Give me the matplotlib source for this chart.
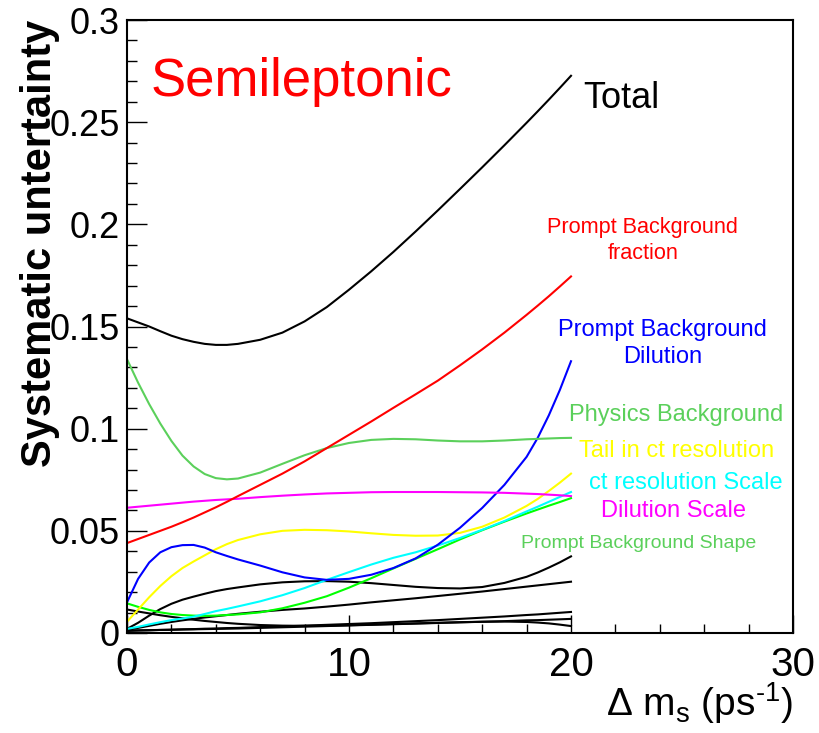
import matplotlib
matplotlib.use("Agg")
import matplotlib.pyplot as plt
from matplotlib.ticker import MultipleLocator

plt.rcParams['font.family'] = ['Liberation Sans', 'DejaVu Sans']
plt.rcParams['mathtext.fontset'] = 'custom'
plt.rcParams['mathtext.rm'] = 'Liberation Sans'
plt.rcParams['mathtext.it'] = 'Liberation Sans:italic'
plt.rcParams['mathtext.bf'] = 'Liberation Sans:bold'

# Delta m_s grid (ps^-1)
dms = [0, 0.5, 1, 1.5, 2, 2.5, 3, 3.5, 4, 4.5, 5, 6, 7, 8, 9, 10,
       11, 12, 13, 14, 15, 16, 17, 18, 18.5, 19, 19.5, 20]

total = [0.154, 0.152, 0.150, 0.1477, 0.1455, 0.1438, 0.1425, 0.1415, 0.141, 0.141, 0.1415,
         0.1435, 0.147, 0.1525, 0.1595, 0.168, 0.177, 0.1865, 0.1965, 0.2068, 0.2173,
         0.2279, 0.2387, 0.2497, 0.2553, 0.261, 0.2668, 0.2727]
prompt_bkg_fraction = [0.044, 0.046, 0.048, 0.050, 0.052, 0.0542, 0.0565, 0.059, 0.0615, 0.0642, 0.067,
                       0.0725, 0.078, 0.084, 0.0905, 0.097, 0.1035, 0.1102, 0.1168, 0.1235, 0.131,
                       0.1388, 0.147, 0.1557, 0.1602, 0.1648, 0.1696, 0.1745]
physics_bkg = [0.134, 0.1225, 0.112, 0.1025, 0.094, 0.0868, 0.0815, 0.0778, 0.0758, 0.0752, 0.0756,
               0.0785, 0.0828, 0.087, 0.0905, 0.093, 0.0945, 0.095, 0.0948, 0.0942, 0.0938,
               0.0938, 0.0942, 0.0948, 0.095, 0.0952, 0.0954, 0.0955]
dilution_scale = [0.0613, 0.0618, 0.0623, 0.0628, 0.0633, 0.0638, 0.0643, 0.0647, 0.0651, 0.0654, 0.0657,
                  0.0665, 0.0672, 0.0678, 0.0683, 0.0686, 0.0689, 0.069, 0.069, 0.069, 0.0689,
                  0.0688, 0.0686, 0.0682, 0.068, 0.0677, 0.0674, 0.067]
prompt_bkg_dilution = [0.015, 0.0265, 0.0345, 0.0395, 0.042, 0.043, 0.0431, 0.0418, 0.0395, 0.0377, 0.036,
                       0.033, 0.0297, 0.0272, 0.026, 0.0265, 0.0285, 0.0318, 0.0365, 0.0432, 0.0515,
                       0.0612, 0.0725, 0.0862, 0.0955, 0.1065, 0.119, 0.133]
tail_ct_res = [0.0055, 0.0115, 0.0175, 0.023, 0.0278, 0.0318, 0.035, 0.038, 0.041, 0.0435, 0.0455,
               0.0483, 0.050, 0.0505, 0.0503, 0.0497, 0.0488, 0.048, 0.0476, 0.0477, 0.049,
               0.052, 0.0565, 0.0622, 0.0656, 0.0695, 0.0736, 0.078]
ct_res_scale = [0.002, 0.003, 0.0042, 0.0053, 0.0063, 0.0071, 0.008, 0.0093, 0.0107, 0.0118, 0.013,
                0.0155, 0.0185, 0.022, 0.026, 0.0298, 0.0335, 0.0368, 0.0395, 0.0428, 0.0465,
                0.0505, 0.0548, 0.0595, 0.0618, 0.0642, 0.0666, 0.069]
prompt_bkg_shape = [0.0145, 0.0128, 0.0113, 0.0101, 0.0093, 0.0088, 0.0085, 0.0084, 0.0085, 0.0088, 0.0091,
                    0.0101, 0.0121, 0.0148, 0.018, 0.0222, 0.0268, 0.0316, 0.0363, 0.041, 0.0458,
                    0.0503, 0.0545, 0.0585, 0.0604, 0.0623, 0.0641, 0.066]
other_a = [0.002, 0.005, 0.0085, 0.0117, 0.0143, 0.0163, 0.0178, 0.0192, 0.0205, 0.0215, 0.0223,
           0.0238, 0.0248, 0.0253, 0.0254, 0.0251, 0.0244, 0.0235, 0.0226, 0.022, 0.0218,
           0.0225, 0.0245, 0.0275, 0.0296, 0.032, 0.0346, 0.0375]
other_b = [0.0015, 0.0025, 0.0035, 0.0045, 0.0054, 0.0062, 0.0069, 0.0076, 0.0082, 0.0088, 0.0094,
           0.0104, 0.0113, 0.012, 0.0129, 0.0139, 0.015, 0.016, 0.017, 0.0181, 0.0192,
           0.0203, 0.0215, 0.0227, 0.0233, 0.0239, 0.0245, 0.0251]
other_c = [0.0115, 0.0105, 0.0096, 0.0087, 0.0079, 0.0072, 0.0065, 0.0059, 0.0054, 0.0049, 0.0045,
           0.0039, 0.0036, 0.0035, 0.0036, 0.0038, 0.0041, 0.0044, 0.0047, 0.005, 0.0053,
           0.0055, 0.0056, 0.0054, 0.0051, 0.0047, 0.0041, 0.0034]
other_d = [0.001, 0.0012, 0.0013, 0.0015, 0.0016, 0.0018, 0.0019, 0.0021, 0.0022, 0.0024, 0.0025,
           0.0029, 0.0032, 0.0036, 0.004, 0.0044, 0.0048, 0.0053, 0.0058, 0.0063, 0.0069,
           0.0075, 0.0081, 0.0088, 0.0091, 0.0095, 0.0099, 0.0103]
other_e = [0.0012, 0.0013, 0.0014, 0.0015, 0.0016, 0.0017, 0.0018, 0.0019, 0.002, 0.0021, 0.0022,
           0.0025, 0.0028, 0.0031, 0.0034, 0.0037, 0.004, 0.0043, 0.0046, 0.0049, 0.0052,
           0.0055, 0.0058, 0.0062, 0.0063, 0.0065, 0.0067, 0.0069]

light_green = '#5bd05b'

fig = plt.figure(figsize=(8.2, 7.33), dpi=100)
ax = fig.add_axes([127 / 820, 1 - 633 / 733, (793 - 127) / 820, (633 - 20) / 733])

lw = 1.5
for series in (other_a, other_b, other_c, other_d, other_e):
    ax.plot(dms, series, color='black', lw=lw, solid_joinstyle='round')
ax.plot(dms, prompt_bkg_shape, color='#00ff00', lw=lw, solid_joinstyle='round')
ax.plot(dms, ct_res_scale, color='#00ffff', lw=lw, solid_joinstyle='round')
ax.plot(dms, tail_ct_res, color='#ffff00', lw=lw, solid_joinstyle='round')
ax.plot(dms, prompt_bkg_dilution, color='#0000ff', lw=lw, solid_joinstyle='round')
ax.plot(dms, dilution_scale, color='#ff00ff', lw=lw, solid_joinstyle='round')
ax.plot(dms, physics_bkg, color=light_green, lw=lw, solid_joinstyle='round')
ax.plot(dms, prompt_bkg_fraction, color='#ff0000', lw=lw, solid_joinstyle='round')
ax.plot(dms, total, color='black', lw=lw, solid_joinstyle='round')

ax.set_xlim(0, 30)
ax.set_ylim(0, 0.3)
ax.xaxis.set_ticks_position('bottom')
ax.yaxis.set_ticks_position('left')
ax.set_xticks([0, 10, 20, 30])
ax.set_xticklabels(['0', '10', '20', '30'])
ax.set_yticks([0, 0.05, 0.1, 0.15, 0.2, 0.25, 0.3])
ax.set_yticklabels(['0', '0.05', '0.1', '0.15', '0.2', '0.25', '0.3'])
ax.xaxis.set_minor_locator(MultipleLocator(2))
ax.yaxis.set_minor_locator(MultipleLocator(0.01))

ax.tick_params(axis='both', which='both', direction='in', top=False, right=False, width=1.0)
ax.tick_params(axis='x', which='major', length=13, labelsize=29, pad=9)
ax.tick_params(axis='x', which='minor', length=6.5)
ax.tick_params(axis='y', which='major', length=14.5, labelsize=26, pad=5)
ax.tick_params(axis='y', which='minor', length=7.2)
for sp in ax.spines.values():
    sp.set_linewidth(1.5)

ax.text(1.04, 0.2627, 'Semileptonic', color='#ff0000', fontsize=38, va='baseline', ha='left')
ax.text(20.54, 0.2569, 'Total', color='black', fontsize=26, va='baseline', ha='left')
ax.text(23.24, 0.1985, 'Prompt Background', color='#ff0000', fontsize=15.6, ha='center', va='center')
ax.text(23.24, 0.1855, 'fraction', color='#ff0000', fontsize=15.6, ha='center', va='center')
ax.text(24.14, 0.1485, 'Prompt Background', color='#0000ff', fontsize=17, ha='center', va='center')
ax.text(24.14, 0.135, 'Dilution', color='#0000ff', fontsize=17, ha='center', va='center')
ax.text(24.75, 0.1068, 'Physics Background', color=light_green, fontsize=17, ha='center', va='center')
ax.text(24.75, 0.0892, 'Tail in ct resolution', color='#ffff00', fontsize=17, ha='center', va='center')
ax.text(25.16, 0.0732, 'ct resolution Scale', color='#00ffff', fontsize=17, ha='center', va='center')
ax.text(24.6, 0.0595, 'Dilution Scale', color='#ff00ff', fontsize=17, ha='center', va='center')
ax.text(23.04, 0.0438, 'Prompt Background Shape', color=light_green, fontsize=14, ha='center', va='center')

fig.text(793 / 820, 1 - 716 / 733, '$\\Delta$ m$_{\\mathrm{s}}$ (ps$^{\\mathrm{\u20101}}$)',
         fontsize=28, ha='right', va='baseline')
fig.text(40 / 820, 1 - 20 / 733, 'Systematic untertainty', fontsize=30, fontweight='bold',
         rotation=90, ha='center', va='top')

fig.savefig('out.png', dpi=100)
